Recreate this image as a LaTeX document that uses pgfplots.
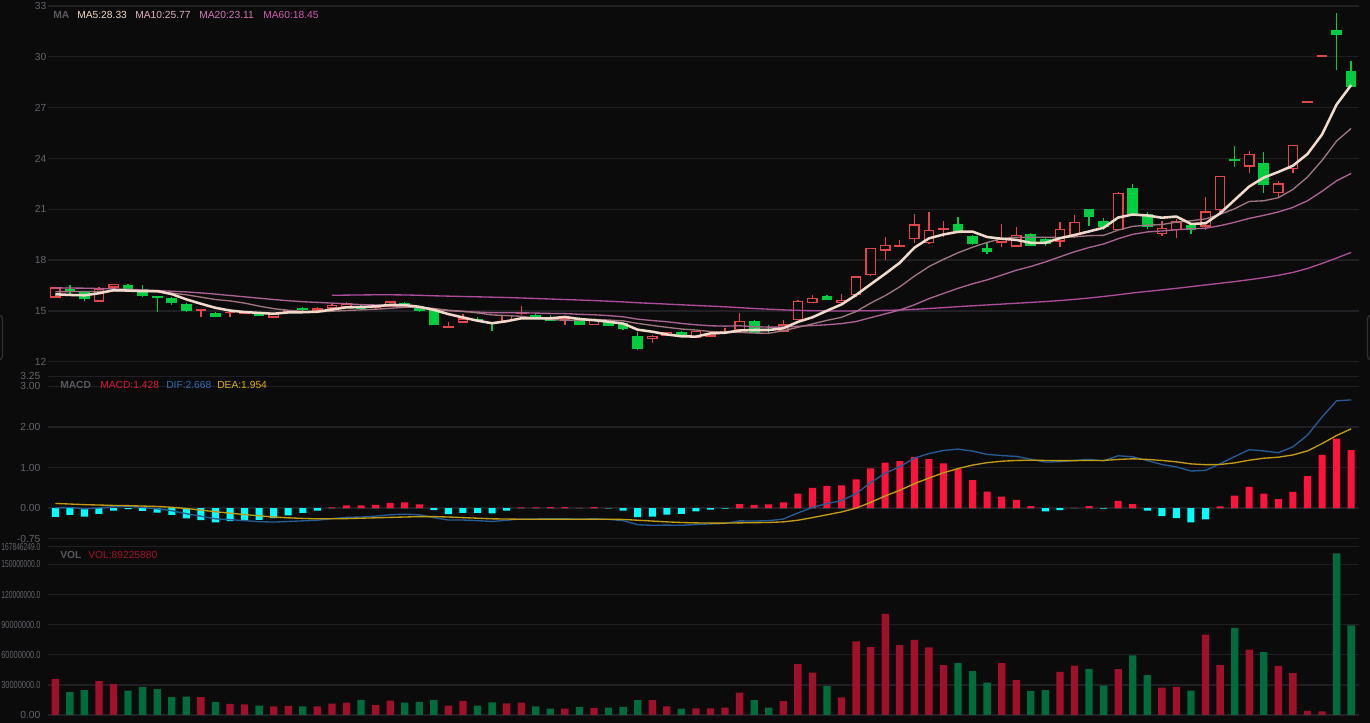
\documentclass[border=0pt]{standalone}
\usepackage{graphicx}
\usepackage{pgfplots}
\pgfplotsset{compat=1.18}
\usepackage{pgfplotstable}
\usepackage{fontspec}
\setmainfont{Liberation Sans}

\definecolor{bg}{RGB}{11,11,12}
\definecolor{gridc}{RGB}{32,32,36}
\definecolor{tickc}{RGB}{100,100,108}
\definecolor{namec}{RGB}{88,88,95}
\definecolor{upred}{RGB}{226,70,72}
\definecolor{dngreen}{RGB}{0,204,64}
\definecolor{ma5c}{RGB}{242,218,202}
\definecolor{ma10c}{RGB}{160,118,128}
\definecolor{ma20c}{RGB}{172,98,148}
\definecolor{ma60c}{RGB}{176,76,156}
\definecolor{ma5t}{RGB}{240,216,196}
\definecolor{ma10t}{RGB}{228,176,190}
\definecolor{ma20t}{RGB}{214,120,184}
\definecolor{ma60t}{RGB}{206,92,176}
\definecolor{macdpos}{RGB}{255,18,60}
\definecolor{macdneg}{RGB}{0,255,255}
\definecolor{difc}{RGB}{38,92,150}
\definecolor{deac}{RGB}{196,156,20}
\definecolor{volred}{RGB}{160,16,42}
\definecolor{volgreen}{RGB}{0,108,60}
\definecolor{macdt}{RGB}{220,20,50}
\definecolor{dift}{RGB}{48,110,180}
\definecolor{deat}{RGB}{220,176,0}
\definecolor{volt}{RGB}{160,20,40}
\definecolor{edgec}{RGB}{48,48,52}

\newcommand\lf{\fontsize{7.7}{9}\selectfont}
\newcommand\nA[1]{\scalebox{0.72}[1]{#1}}
\newcommand\nB[1]{\scalebox{0.65}[1]{#1}}

% i O H L C V(millions) up (1 = rising day, 0 = falling day)
\pgfplotstableread{
i O H L C V up
1 15.78 16.42 15.75 16.39 35.7 1
2 16.31 16.51 16.00 16.09 22.7 0
3 16.19 16.19 15.58 15.70 24.7 0
4 15.54 16.43 15.54 16.31 33.7 1
5 16.37 16.59 16.15 16.59 30.7 1
6 16.51 16.59 16.19 16.31 24.3 0
7 16.31 16.53 15.80 15.88 28.0 0
8 15.88 15.90 14.95 15.74 25.7 0
9 15.78 15.80 15.32 15.44 17.7 0
10 15.43 15.45 14.95 15.01 18.3 0
11 15.02 15.08 14.62 15.05 17.7 1
12 14.89 14.95 14.62 14.66 13.0 0
13 14.86 14.97 14.62 14.95 11.0 1
14 14.82 15.00 14.80 15.00 10.7 1
15 14.91 14.95 14.70 14.72 9.3 0
16 14.60 14.88 14.60 14.82 8.7 1
17 14.95 15.07 14.93 15.05 9.0 1
18 15.19 15.25 15.00 15.03 8.7 0
19 15.01 15.25 15.00 15.15 8.7 1
20 15.13 15.40 15.10 15.37 11.3 1
21 15.25 15.55 15.20 15.44 12.3 1
22 15.31 15.35 15.08 15.11 15.0 0
23 15.15 15.30 15.10 15.27 10.0 1
24 15.25 15.58 15.22 15.56 14.3 1
25 15.46 15.55 15.27 15.31 12.3 0
26 15.25 15.27 14.93 14.97 13.0 0
27 15.05 15.07 14.15 14.17 15.0 0
28 14.00 14.36 13.99 14.02 9.3 1
29 14.30 14.81 14.30 14.56 14.0 1
30 14.52 14.62 14.38 14.40 9.3 0
31 14.32 14.35 13.81 14.20 12.5 0
32 14.38 14.78 14.36 14.76 11.7 1
33 14.84 15.31 14.76 14.86 12.3 1
34 14.76 14.86 14.50 14.58 8.7 0
35 14.56 14.74 14.40 14.42 6.3 0
36 14.40 14.58 14.17 14.56 6.3 1
37 14.60 14.62 14.15 14.17 8.0 0
38 14.17 14.52 14.15 14.52 7.0 1
39 14.40 14.42 14.08 14.11 7.3 0
40 14.26 14.28 13.90 13.91 8.0 0
41 13.52 13.77 12.69 12.75 14.7 0
42 13.36 13.56 13.08 13.54 14.7 1
43 13.54 13.77 13.52 13.75 8.7 1
44 13.73 13.83 13.52 13.56 6.3 0
45 13.42 13.83 13.38 13.81 6.7 1
46 13.48 13.73 13.46 13.71 6.7 1
47 13.69 14.00 13.69 13.71 7.3 1
48 13.87 14.85 13.85 14.42 22.3 1
49 14.42 14.44 13.69 13.71 14.7 0
50 13.85 14.15 13.69 13.81 7.3 0
51 13.77 14.46 13.75 14.20 13.7 1
52 14.46 15.62 14.44 15.60 50.7 1
53 15.46 15.94 15.44 15.78 42.3 1
54 15.90 15.94 15.62 15.64 28.8 0
55 15.48 16.00 15.46 15.66 17.5 1
56 15.94 17.06 15.80 17.04 73.3 1
57 17.12 18.73 17.04 18.71 67.7 1
58 18.56 19.38 18.00 18.89 100.8 1
59 18.79 19.18 18.77 18.89 69.5 1
60 19.24 20.70 18.99 20.11 74.8 1
61 18.99 20.82 18.97 19.80 67.3 1
62 19.79 20.31 19.34 19.85 49.7 1
63 20.15 20.52 19.58 19.72 51.7 0
64 19.44 19.48 18.90 18.93 43.7 0
65 18.73 19.03 18.36 18.50 32.3 0
66 19.03 20.15 18.75 19.30 51.7 1
67 18.79 19.97 18.77 19.50 34.7 1
68 19.54 19.60 18.83 18.85 24.0 0
69 19.24 19.30 18.85 18.95 24.7 0
70 19.09 20.27 18.75 19.85 43.0 1
71 19.48 20.64 19.28 20.25 49.3 1
72 21.00 21.00 20.01 20.56 46.0 0
73 20.29 20.46 19.78 19.93 29.3 0
74 19.78 22.00 19.76 21.98 45.7 1
75 22.28 22.49 20.60 20.72 59.3 0
76 20.72 20.82 19.85 19.97 39.7 0
77 19.52 20.31 19.42 19.91 27.3 1
78 19.78 20.44 19.30 20.29 28.0 1
79 20.09 20.11 19.52 19.78 24.3 0
80 19.97 21.74 19.78 20.88 80.0 1
81 20.96 22.98 20.86 22.96 49.7 1
82 23.99 24.74 23.52 23.83 86.7 0
83 23.52 24.44 23.12 24.26 65.0 1
84 23.71 24.40 21.98 22.43 62.7 0
85 21.94 22.67 21.70 22.53 49.0 1
86 23.36 24.80 23.16 24.80 41.7 1
87 27.28 27.28 27.28 27.28 4.0 1
88 30.00 30.00 30.00 30.00 3.7 1
89 31.59 32.57 29.22 31.31 161.0 0
90 29.17 29.78 28.20 28.20 89.2 0
}\candles

\pgfplotstableread{
i ma5 ma10 ma20 ma60
1 15.98 16.13 16.36 nan
2 15.94 16.14 16.35 nan
3 15.92 16.14 16.34 nan
4 16.04 16.15 16.32 nan
5 16.22 16.17 16.30 nan
6 16.20 16.18 16.27 nan
7 16.16 16.16 16.24 nan
8 16.17 16.12 16.20 nan
9 15.99 16.05 16.16 nan
10 15.68 15.95 16.12 nan
11 15.42 15.81 16.06 nan
12 15.18 15.67 15.99 nan
13 15.02 15.59 15.91 nan
14 14.93 15.46 15.83 nan
15 14.88 15.28 15.75 nan
16 14.83 15.13 15.67 nan
17 14.91 15.04 15.60 nan
18 14.92 14.97 15.54 nan
19 14.95 14.94 15.50 nan
20 15.08 14.98 15.46 15.92
21 15.21 15.02 15.42 15.93
22 15.22 15.06 15.37 15.94
23 15.27 15.10 15.35 15.95
24 15.35 15.15 15.31 15.95
25 15.34 15.21 15.24 15.94
26 15.24 15.23 15.18 15.92
27 15.06 15.14 15.09 15.89
28 14.81 15.04 15.01 15.87
29 14.61 14.98 14.96 15.85
30 14.42 14.88 14.93 15.83
31 14.27 14.76 14.89 15.81
32 14.39 14.72 14.89 15.79
33 14.56 14.68 14.89 15.76
34 14.56 14.58 14.87 15.73
35 14.56 14.49 14.85 15.70
36 14.64 14.45 14.84 15.67
37 14.52 14.45 14.80 15.64
38 14.45 14.50 14.77 15.61
39 14.36 14.46 14.72 15.57
40 14.25 14.41 14.65 15.53
41 13.89 14.26 14.51 15.48
42 13.77 14.14 14.43 15.44
43 13.61 14.03 14.36 15.40
44 13.50 13.93 14.26 15.36
45 13.48 13.87 14.18 15.32
46 13.67 13.78 14.12 15.28
47 13.71 13.74 14.10 15.24
48 13.84 13.73 14.12 15.19
49 13.87 13.69 14.07 15.14
50 13.87 13.68 14.04 15.10
51 13.97 13.82 14.04 15.06
52 14.35 14.03 14.09 15.03
53 14.62 14.23 14.13 15.01
54 15.01 14.44 14.18 15.00
55 15.38 14.62 14.25 14.99
56 15.94 14.96 14.37 15.00
57 16.57 15.46 14.60 15.01
58 17.19 15.90 14.82 15.03
59 17.84 16.42 15.05 15.05
60 18.73 17.05 15.36 15.09
61 19.28 17.61 15.72 15.14
62 19.51 18.04 16.03 15.19
63 19.67 18.43 16.33 15.25
64 19.68 18.76 16.60 15.30
65 19.36 19.04 16.83 15.35
66 19.26 19.27 17.11 15.40
67 19.19 19.35 17.40 15.45
68 19.02 19.35 17.62 15.50
69 19.02 19.35 17.89 15.55
70 19.29 19.33 18.19 15.61
71 19.48 19.37 18.49 15.68
72 19.69 19.44 18.74 15.76
73 19.91 19.46 18.95 15.85
74 20.51 19.77 19.26 15.95
75 20.69 19.99 19.52 16.06
76 20.63 20.06 19.66 16.15
77 20.50 20.10 19.72 16.24
78 20.57 20.24 19.79 16.33
79 20.13 20.32 19.84 16.43
80 20.17 20.43 19.88 16.53
81 20.76 20.70 20.03 16.63
82 21.55 21.03 20.23 16.73
83 22.34 21.46 20.46 16.84
84 22.87 21.50 20.64 16.96
85 23.20 21.68 20.84 17.10
86 23.57 22.17 21.11 17.27
87 24.26 22.90 21.50 17.50
88 25.41 23.88 22.06 17.80
89 27.18 25.03 22.68 18.12
90 28.33 25.77 23.11 18.45
}\mas

\pgfplotstableread{
i h dif dea
1 -0.215 0.007 0.115
2 -0.17 0.015 0.10
3 -0.21 -0.02 0.085
4 -0.14 0.005 0.075
5 -0.06 0.035 0.065
6 -0.025 0.047 0.06
7 -0.07 0.015 0.05
8 -0.115 -0.018 0.04
9 -0.17 -0.065 0.02
10 -0.255 -0.138 -0.01
11 -0.30 -0.20 -0.05
12 -0.35 -0.265 -0.09
13 -0.32 -0.285 -0.125
14 -0.30 -0.31 -0.16
15 -0.29 -0.335 -0.19
16 -0.25 -0.345 -0.22
17 -0.18 -0.33 -0.24
18 -0.12 -0.315 -0.255
19 -0.065 -0.30 -0.265
20 0.015 -0.26 -0.265
21 0.066 -0.23 -0.26
22 0.066 -0.22 -0.25
23 0.08 -0.20 -0.24
24 0.13 -0.165 -0.23
25 0.14 -0.15 -0.22
26 0.09 -0.165 -0.21
27 -0.05 -0.235 -0.21
28 -0.15 -0.295 -0.22
29 -0.12 -0.295 -0.235
30 -0.12 -0.31 -0.25
31 -0.13 -0.33 -0.265
32 -0.06 -0.30 -0.27
33 0.015 -0.268 -0.275
34 0.015 -0.268 -0.275
35 0.025 -0.263 -0.275
36 0.025 -0.263 -0.275
37 0.003 -0.273 -0.275
38 0.025 -0.263 -0.275
39 -0.005 -0.278 -0.275
40 -0.06 -0.31 -0.28
41 -0.22 -0.41 -0.30
42 -0.21 -0.425 -0.32
43 -0.16 -0.42 -0.34
44 -0.14 -0.425 -0.355
45 -0.08 -0.405 -0.365
46 -0.04 -0.39 -0.37
47 -0.015 -0.378 -0.37
48 0.10 -0.315 -0.365
49 0.08 -0.32 -0.36
50 0.09 -0.31 -0.355
51 0.14 -0.27 -0.34
52 0.355 -0.12 -0.30
53 0.50 0.015 -0.235
54 0.55 0.11 -0.165
55 0.56 0.185 -0.095
56 0.71 0.355 0.0
57 0.98 0.63 0.14
58 1.12 0.86 0.30
59 1.16 1.02 0.44
60 1.26 1.23 0.60
61 1.21 1.345 0.74
62 1.10 1.42 0.87
63 0.96 1.455 0.975
64 0.69 1.405 1.06
65 0.405 1.325 1.12
66 0.28 1.295 1.155
67 0.20 1.275 1.175
68 0.05 1.205 1.18
69 -0.08 1.135 1.175
70 -0.05 1.145 1.17
71 0.008 1.175 1.17
72 0.05 1.20 1.175
73 -0.015 1.165 1.175
74 0.175 1.29 1.20
75 0.10 1.265 1.215
76 -0.065 1.17 1.20
77 -0.20 1.075 1.175
78 -0.25 1.015 1.14
79 -0.355 0.915 1.09
80 -0.28 0.93 1.07
81 0.04 1.095 1.075
82 0.31 1.27 1.115
83 0.52 1.44 1.18
84 0.355 1.41 1.23
85 0.22 1.365 1.255
86 0.40 1.51 1.31
87 0.785 1.80 1.41
88 1.31 2.245 1.59
89 1.71 2.645 1.79
90 1.428 2.668 1.954
}\macdtab

\pgfplotsset{
  panel/.style={
    scale only axis, width=983.25pt, xmin=0.5, xmax=90.54,
    anchor=south west,
    axis line style={draw=none},
    xtick=\empty,
    major tick length=0pt,
    tick style={draw=none},
    ymajorgrids,
    grid style={draw=gridc, line width=1pt},
    yticklabel style={font=\lf, text=tickc, anchor=east, inner sep=0pt},
  },
  seg/.style 2 args={forget plot, draw=#1, line width=#2, line cap=butt, mark=none},
}

\begin{document}
\begin{tikzpicture}
\useasboundingbox (0,0) rectangle (1027.5pt,542.25pt);
\fill[bg] (0,0) rectangle (1027.5pt,542.25pt);
\clip (0,0) rectangle (1027.5pt,542.25pt);

% ---------------- price panel
\begin{axis}[panel, at={(36pt,270.975pt)}, height=266.775pt,
  ymin=12, ymax=33, ytick={12,15,18,21,24,27,30,33},
  yticklabels={12,15,18,21,24,27,30,33},
  yticklabel style={xshift=-1pt}]
% rising candles: red hollow (zero length on falling days)
\addplot[seg={upred}{1pt}, quiver={u=0, v={\thisrow{up}*(\thisrow{H}-\thisrow{L})}}] table[x=i, y=L] {\candles};
\addplot[seg={upred}{8pt}, quiver={u=0, v={\thisrow{up}*max(\thisrow{C}-\thisrow{O},0.1)}}] table[x=i, y=O] {\candles};
\addplot[seg={bg}{6pt}, quiver={u=0, v={\thisrow{up}*max(\thisrow{C}-\thisrow{O}-0.16,0)}}] table[x=i, y expr=\thisrow{O}+0.08] {\candles};
% falling candles: green filled (zero length on rising days)
\addplot[seg={dngreen}{1pt}, quiver={u=0, v={(1-\thisrow{up})*(\thisrow{H}-\thisrow{L})}}] table[x=i, y=L] {\candles};
\addplot[seg={dngreen}{8pt}, quiver={u=0, v={(1-\thisrow{up})*max(\thisrow{O}-\thisrow{C},0.1)}}] table[x=i, y=C] {\candles};
% moving averages
\addplot[ma60c, line width=1pt, no marks, line join=round] table[x=i, y=ma60] {\mas};
\addplot[ma20c, line width=1pt, no marks, line join=round] table[x=i, y=ma20] {\mas};
\addplot[ma10c, line width=1pt, no marks, line join=round] table[x=i, y=ma10] {\mas};
\addplot[ma5c, line width=1.9pt, no marks, line join=round] table[x=i, y=ma5] {\mas};
\end{axis}

% ---------------- MACD panel
\begin{axis}[panel, at={(36pt,138.375pt)}, height=121.65pt,
  ymin=-0.75, ymax=3.25, ytick={-0.75,0,1,2,3,3.25},
  yticklabels={-0.75,0.00,1.00,2.00,3.00,3.25},
  yticklabel style={xshift=-5.5pt}]
\addplot[ybar, bar width=5.25pt, bar shift=0pt, fill=macdpos, draw=none, forget plot] table[x=i, y expr={max(\thisrow{h},0)}] {\macdtab};
\addplot[ybar, bar width=5.25pt, bar shift=0pt, fill=macdneg, draw=none, forget plot] table[x=i, y expr={min(\thisrow{h},0)}] {\macdtab};
\addplot[difc, line width=1pt, no marks, line join=round] table[x=i, y=dif] {\macdtab};
\addplot[deac, line width=1pt, no marks, line join=round] table[x=i, y=dea] {\macdtab};
\end{axis}

% ---------------- volume panel (values in millions)
\begin{axis}[panel, at={(36pt,6pt)}, height=126.375pt,
  ymin=0, ymax=167.846249, ytick={0,30,60,90,120,150,167.846249},
  yticklabels={0.00,\nA{30000000.0},\nA{60000000.0},\nA{90000000.0},\nB{120000000.0},\nB{150000000.0},\nB{167846249.0}},
  yticklabel style={xshift=-5.5pt}]
\addplot[ybar, bar width=5.5pt, bar shift=0pt, fill=volred, draw=none, forget plot] table[x=i, y expr={\thisrow{up}*\thisrow{V}}] {\candles};
\addplot[ybar, bar width=5.5pt, bar shift=0pt, fill=volgreen, draw=none, forget plot] table[x=i, y expr={(1-\thisrow{up})*\thisrow{V}}] {\candles};
\end{axis}

% ---------------- captions (pixel coordinates, y downward)
\begin{scope}[x=0.75pt, y=-0.75pt, yshift=542.25pt]
\tikzset{captx/.style={anchor=west, inner sep=0pt, font=\lf}}
\node[captx, text=namec, font=\lf\bfseries] at (53,15) {MA};
\node[captx, text=ma5t] at (77,15) {MA5:28.33};
\node[captx, text=ma10t] at (135,15) {MA10:25.77};
\node[captx, text=ma20t] at (199,15) {MA20:23.11};
\node[captx, text=ma60t] at (263,15) {MA60:18.45};
\node[captx, text=namec, font=\lf\bfseries] at (60,385) {MACD};
\node[captx, text=macdt] at (100,385) {MACD:1.428};
\node[captx, text=dift] at (166,385) {DIF:2.668};
\node[captx, text=deat] at (217,385) {DEA:1.954};
\node[captx, text=namec, font=\lf\bfseries] at (60,555) {VOL};
\node[captx, text=volt] at (88,555) {VOL:89225880};
\draw[edgec, line width=1pt, rounded corners=3pt] (-10,315) rectangle (2.5,360);
\draw[edgec, line width=1pt, rounded corners=3pt] (1367.5,315) rectangle (1380,360);
\end{scope}
\end{tikzpicture}
\end{document}
